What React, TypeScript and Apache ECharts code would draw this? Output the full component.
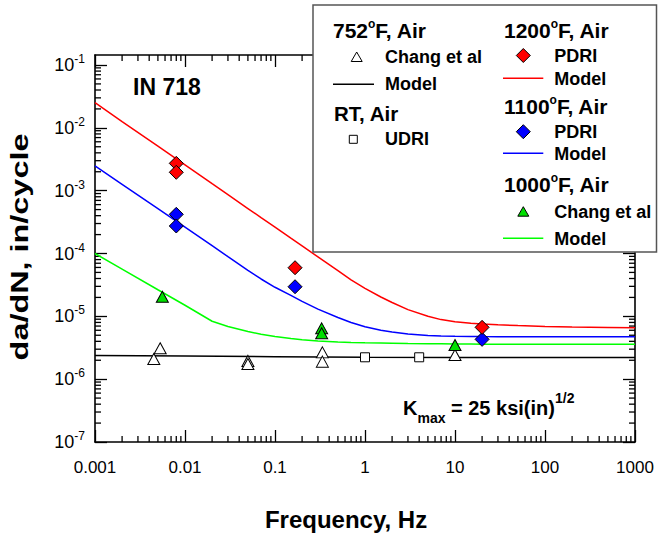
import React, { useEffect, useRef } from "react";
import * as echarts from "echarts";

const FONT = '"Liberation Sans", Arial, sans-serif';

// Axis limits
const X_MIN = 0.001;
const X_MAX = 1000;
const Y_MIN = 1e-7;
const Y_MAX = Math.pow(10, -0.8408);

// Model curves
const freqModel = [0.001, 0.002, 0.005, 0.01, 0.02, 0.03, 0.05, 0.07, 0.1, 0.15, 0.2, 0.3, 0.5, 0.7, 1, 1.5, 2, 3, 5, 7, 10, 15, 20, 30, 50, 100, 200, 500, 1000];
const model1200 = [2.51e-2, 1.26e-2, 5.1e-3, 2.57e-3, 1.29e-3, 8.64e-4, 5.2e-4, 3.73e-4, 2.63e-4, 1.75e-4, 1.32e-4, 8.83e-5, 5.32e-5, 3.81e-5, 2.79e-5, 2.03e-5, 1.66e-5, 1.28e-5, 1.0e-5, 8.87e-6, 8.18e-6, 7.75e-6, 7.55e-6, 7.33e-6, 7.12e-6, 6.91e-6, 6.76e-6, 6.67e-6, 6.59e-6];
const model1100 = [2.47e-3, 1.26e-3, 5.16e-4, 2.63e-4, 1.34e-4, 8.9e-5, 5.4e-5, 3.93e-5, 2.9e-5, 2.15e-5, 1.73e-5, 1.3e-5, 9.57e-6, 7.97e-6, 6.81e-6, 6.01e-6, 5.62e-6, 5.23e-6, 4.95e-6, 4.86e-6, 4.81e-6, 4.78e-6, 4.76e-6, 4.75e-6, 4.74e-6, 4.74e-6, 4.74e-6, 4.74e-6, 4.74e-6];
const model1000 = [1.0e-4, 5.65e-5, 2.65e-5, 1.5e-5, 8.35e-6, 6.89e-6, 5.73e-6, 5.19e-6, 4.77e-6, 4.42e-6, 4.24e-6, 4.06e-6, 3.92e-6, 3.85e-6, 3.79e-6, 3.75e-6, 3.72e-6, 3.68e-6, 3.66e-6, 3.65e-6, 3.63e-6, 3.62e-6, 3.61e-6, 3.6e-6, 3.6e-6, 3.59e-6, 3.59e-6, 3.58e-6, 3.58e-6];
const freq752Model = [0.001, 0.01, 0.1, 1, 10, 100, 1000];
const model752 = [2.38e-6, 2.33e-6, 2.28e-6, 2.24e-6, 2.22e-6, 2.21e-6, 2.21e-6];

// Test data
const pdri1200Freq = [0.008, 0.008, 0.167, 20];
const pdri1200Rate = [2.72e-3, 1.96e-3, 5.94e-5, 6.68e-6];
const pdri1100Freq = [0.008, 0.008, 0.167, 20];
const pdri1100Rate = [4.2e-4, 2.74e-4, 2.96e-5, 4.3e-6];
const chang1000Freq = [0.0056, 0.33, 0.33, 10];
const chang1000Rate = [2.05e-5, 6.44e-6, 5.37e-6, 3.5e-6];
const chang752Freq = [0.0045, 0.0053, 0.05, 0.05, 0.336, 0.336, 10];
const chang752Rate = [2.09e-6, 3.1e-6, 1.95e-6, 1.74e-6, 2.67e-6, 1.9e-6, 2.42e-6];
const udriFreq = [1, 4];
const udriRate = [2.23e-6, 2.23e-6];

const xDecades = [0.001, 0.01, 0.1, 1, 10, 100];
const yDecades = [1e-7, 1e-6, 1e-5, 1e-4, 1e-3, 1e-2];
const minorMult = [2, 3, 4, 5, 6, 7, 8, 9];

const zip = (a: number[], b: number[]) => a.map((v, i) => [v, b[i]]);

function buildOption() {
  const minorX: number[][] = [];
  xDecades.forEach((d) => minorMult.forEach((m) => minorX.push([d * m, 1e-4])));
  const minorY: number[][] = [];
  yDecades.forEach((d) => minorMult.forEach((m) => minorY.push([1, d * m])));

  const tickStyle = { stroke: "#000", lineWidth: 1.3 };

  const axisCommon = {
    type: "log" as const,
    logBase: 10,
    axisLine: { show: true, onZero: false, lineStyle: { color: "#000", width: 1.6 } },
    axisTick: { show: true, inside: true, length: 12, lineStyle: { color: "#000", width: 1.3 } },
    splitLine: { show: false },
    minorTick: { show: false },
    minorSplitLine: { show: false },
  };

  const lineSeries = (name: string, xs: number[], ys: number[], color: string) => ({
    name,
    type: "line",
    data: zip(xs, ys),
    showSymbol: false,
    symbol: "none",
    smooth: false,
    lineStyle: { color, width: 1.5 },
    silent: true,
    z: 3,
  });

  const scatter = (name: string, xs: number[], ys: number[], symbol: string, size: any, fill: string, z: number) => ({
    name,
    type: "scatter",
    data: zip(xs, ys),
    symbol,
    symbolSize: size,
    itemStyle: { color: fill, borderColor: "#000", borderWidth: 1, opacity: 1 },
    silent: true,
    z,
  });

  const txt = (x: number, y: number, text: string, size: number, extra: any = {}) => ({
    type: "text",
    x,
    y,
    z: 101,
    style: {
      text,
      fill: "#000",
      font: `bold ${size}px ${FONT}`,
      align: "left",
      verticalAlign: "middle",
    },
    ...extra,
  });

  const heading = (x: number, y: number, num: string, rest: string) => ({
    type: "text",
    x,
    y,
    z: 101,
    style: {
      text: `{h|${num}}{o|o}{h|${rest}}`,
      align: "left",
      verticalAlign: "middle",
      rich: {
        h: { fontSize: 21, fontWeight: "bold", fontFamily: FONT, lineHeight: 25, fill: "#000" },
        o: { fontSize: 12, fontWeight: "bold", fontFamily: FONT, lineHeight: 12, verticalAlign: "top", fill: "#000" },
      },
    },
  });

  const legLine = (x1: number, x2: number, y: number, color: string) => ({
    type: "line",
    z: 101,
    shape: { x1, y1: y, x2, y2: y },
    style: { stroke: color, lineWidth: 1.5 },
  });

  const diamond = (cx: number, cy: number, color: string) => ({
    type: "polygon",
    z: 101,
    shape: { points: [[cx, cy - 7], [cx + 7, cy], [cx, cy + 7], [cx - 7, cy]] },
    style: { fill: color, stroke: "#000", lineWidth: 1 },
  });

  const triangle = (cx: number, cy: number, color: string) => ({
    type: "polygon",
    z: 101,
    shape: { points: [[cx, cy - 5], [cx + 5.5, cy + 4.5], [cx - 5.5, cy + 4.5]] },
    style: { fill: color, stroke: "#000", lineWidth: 1 },
  });

  const graphic: any[] = [
    // legend box
    {
      type: "rect",
      z: 100,
      shape: { x: 313, y: 5, width: 343.5, height: 247 },
      style: { fill: "#fff", stroke: "#555", lineWidth: 1.5 },
    },
    heading(333, 30, "752", "F, Air"),
    triangle(356.7, 57, "#fff"),
    txt(385, 57.3, "Chang et al", 18),
    legLine(333, 374, 84.3, "#000"),
    txt(385, 84.3, "Model", 18),
    txt(334, 113.3, "RT, Air", 20.5),
    {
      type: "rect",
      z: 101,
      shape: { x: 349.3, y: 135.3, width: 8, height: 8 },
      style: { fill: "#fff", stroke: "#000", lineWidth: 1 },
    },
    txt(385, 139.3, "UDRI", 18),

    heading(504, 30, "1200", "F, Air"),
    diamond(523.3, 55.5, "#ff0000"),
    txt(554.3, 55.5, "PDRI", 18),
    legLine(503, 543.3, 78.3, "#ff0000"),
    txt(554.3, 79.3, "Model", 18),

    heading(504, 106, "1100", "F, Air"),
    diamond(523.3, 131.7, "#0000ff"),
    txt(554.3, 131.7, "PDRI", 18),
    legLine(503, 543.3, 153.3, "#0000ff"),
    txt(554.3, 154, "Model", 18),

    heading(504, 184, "1000", "F, Air"),
    triangle(523.3, 211.7, "#00e000"),
    txt(554.3, 211.7, "Chang et al", 18),
    legLine(503, 543.3, 238.3, "#00ff00"),
    txt(554.3, 239, "Model", 18),

    // in-plot labels
    txt(133, 86.7, "IN 718", 23),
    {
      type: "text",
      x: 403,
      y: 408.3,
      z: 101,
      style: {
        text: "{k|K}{s|max}{k| = 25 ksi(in)}{p|1/2}",
        align: "left",
        verticalAlign: "middle",
        rich: {
          k: { fontSize: 20, fontWeight: "bold", fontFamily: FONT, lineHeight: 34, fill: "#000" },
          s: { fontSize: 14, fontWeight: "bold", fontFamily: FONT, lineHeight: 22, verticalAlign: "bottom", fill: "#000" },
          p: { fontSize: 14, fontWeight: "bold", fontFamily: FONT, lineHeight: 14, verticalAlign: "top", fill: "#000" },
        },
      },
    },
    // axis titles
    {
      type: "text",
      x: 346,
      y: 519.5,
      z: 101,
      style: {
        text: "Frequency, Hz",
        fill: "#000",
        font: `bold 24px ${FONT}`,
        align: "center",
        verticalAlign: "middle",
      },
    },
    {
      type: "text",
      x: 20,
      y: 247,
      z: 101,
      rotation: Math.PI / 2,
      scaleX: 1.35,
      style: {
        text: "da/dN, in/cycle",
        fill: "#000",
        font: `bold 24px ${FONT}`,
        align: "center",
        verticalAlign: "middle",
      },
    },
  ];

  const xLabelFmt = (v: number) => {
    const e = Math.round(Math.log10(v));
    if (e < 0) return v.toFixed(-e);
    return String(Math.round(v));
  };
  const yLabelFmt = (v: number) => {
    const l = Math.log10(v);
    const e = Math.round(l);
    if (Math.abs(l - e) > 0.01) return "";
    return `{n|10}{e|${e}}`;
  };

  return {
    animation: false,
    backgroundColor: "#fff",
    grid: {
      left: 95,
      right: 23,
      top: 55,
      bottom: 93,
      containLabel: false,
      outerBoundsMode: "none",
    },
    xAxis: [
      {
        ...axisCommon,
        position: "bottom",
        min: X_MIN,
        max: X_MAX,
        splitNumber: 6,
        axisLabel: {
          show: true,
          formatter: xLabelFmt,
          color: "#000",
          fontSize: 17,
          fontFamily: FONT,
          margin: 17,
          showMinLabel: true,
          showMaxLabel: true,
        },
      },
      {
        ...axisCommon,
        position: "top",
        min: X_MIN,
        max: X_MAX,
        splitNumber: 6,
        axisLabel: { show: false },
      },
    ],
    yAxis: [
      {
        ...axisCommon,
        position: "left",
        min: Y_MIN,
        max: Y_MAX,
        splitNumber: 6,
        axisLabel: {
          show: true,
          formatter: yLabelFmt,
          margin: 10,
          showMaxLabel: false,
          rich: {
            n: { fontSize: 18, fontFamily: FONT, color: "#000", lineHeight: 24 },
            e: { fontSize: 12, fontFamily: FONT, color: "#000", lineHeight: 12, verticalAlign: "top" },
          },
        },
      },
      {
        ...axisCommon,
        position: "right",
        min: Y_MIN,
        max: Y_MAX,
        splitNumber: 6,
        axisLabel: { show: false },
      },
    ],
    series: [
      {
        type: "custom",
        name: "xminor",
        silent: true,
        data: minorX,
        z: 1,
        renderItem: (params: any, api: any) => {
          const v = api.value(0);
          const b = api.coord([v, Y_MIN]);
          const t = api.coord([v, Y_MAX]);
          return {
            type: "group",
            children: [
              { type: "line", shape: { x1: b[0], y1: b[1], x2: b[0], y2: b[1] - 6 }, style: tickStyle },
              { type: "line", shape: { x1: t[0], y1: t[1], x2: t[0], y2: t[1] + 6 }, style: tickStyle },
            ],
          };
        },
      },
      {
        type: "custom",
        name: "yminor",
        silent: true,
        data: minorY,
        z: 1,
        renderItem: (params: any, api: any) => {
          const v = api.value(1);
          const l = api.coord([X_MIN, v]);
          const r = api.coord([X_MAX, v]);
          return {
            type: "group",
            children: [
              { type: "line", shape: { x1: l[0], y1: l[1], x2: l[0] + 6, y2: l[1] }, style: tickStyle },
              { type: "line", shape: { x1: r[0], y1: r[1], x2: r[0] - 6, y2: r[1] }, style: tickStyle },
            ],
          };
        },
      },
      lineSeries("752 Model", freq752Model, model752, "#000000"),
      lineSeries("1000 Model", freqModel, model1000, "#00ff00"),
      lineSeries("1100 Model", freqModel, model1100, "#0000ff"),
      lineSeries("1200 Model", freqModel, model1200, "#ff0000"),
      scatter("752 Chang", chang752Freq, chang752Rate, "triangle", [12, 11], "#ffffff", 4),
      scatter("RT UDRI", udriFreq, udriRate, "rect", 9, "#ffffff", 4),
      scatter("1000 Chang", chang1000Freq, chang1000Rate, "triangle", [12, 11], "#00e000", 5),
      scatter("1100 PDRI", pdri1100Freq, pdri1100Rate, "diamond", 14, "#0000ff", 6),
      scatter("1200 PDRI", pdri1200Freq, pdri1200Rate, "diamond", 14, "#ff0000", 6),
    ],
    graphic,
  };
}

export default function App() {
  const ref = useRef<HTMLDivElement>(null);
  useEffect(() => {
    if (!ref.current) return;
    const chart = echarts.init(ref.current, null, { renderer: "svg" });
    chart.setOption(buildOption() as any);
    return () => chart.dispose();
  }, []);
  return (
    <div
      ref={ref}
      style={{ position: "absolute", left: 0, top: 0, width: 658, height: 535, background: "#fff" }}
    />
  );
}
